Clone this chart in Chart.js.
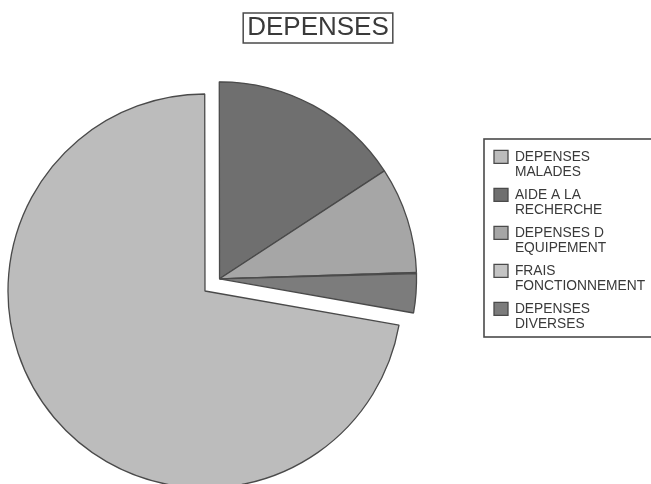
<!DOCTYPE html>
<html>
<head>
<meta charset="utf-8">
<title>DEPENSES</title>
<script src="https://cdn.jsdelivr.net/npm/chart.js@4.4.1/dist/chart.umd.min.js"></script>
<style>
  html, body { margin: 0; padding: 0; background: #fff; }
  #pieChart { display: block; }
</style>
</head>
<body>
<canvas id="pieChart" width="651" height="484"></canvas>
<script>
var titleText = 'DEPENSES';

var pieLabels = [
    ['DEPENSES', 'MALADES'],
    ['AIDE A LA', 'RECHERCHE'],
    ['DEPENSES D', 'EQUIPEMENT'],
    ['FRAIS', 'FONCTIONNEMENT'],
    ['DEPENSES', 'DIVERSES']
];
var pieValues = [72.2, 15.8, 8.7, 0.1, 3.2];
var pieColors = ['#bcbcbc', '#6f6f6f', '#a6a6a6', '#c4c4c4', '#7c7c7c'];
var explodedFrom = 1; // slices from this one on are pulled out as one block

Chart.defaults.font.family = '"Liberation Sans", Arial, sans-serif';
Chart.defaults.color = '#3a3a3a';

// move the exploded slices together along the middle angle of the block
var explodePlugin = {
    id: 'explodeGroup',
    afterDatasetUpdate: function (chart, args, opts) {
        var arcs = args.meta.data;
        var first = arcs[explodedFrom];
        var last = arcs[arcs.length - 1];
        var mid = (first.startAngle + last.endAngle) / 2;
        for (var i = explodedFrom; i < arcs.length; i++) {
            arcs[i].x += Math.cos(mid) * opts.distance;
            arcs[i].y += Math.sin(mid) * opts.distance;
        }
    }
};

// put title and legend where the old chart had them, and frame both
var framePlugin = {
    id: 'frames',
    beforeDraw: function (chart) {
        var t = chart.titleBlock;
        t.left = 218; t.right = 418; t.width = 200;
        t.top = 12.4; t.bottom = 43.6; t.height = 31.2;

        var lg = chart.legend;
        lg.left = 486; lg.right = 700; lg.width = 214;
        lg.top = 142; lg.bottom = 345; lg.height = 203;
    },
    afterDraw: function (chart) {
        var ctx = chart.ctx;
        ctx.save();
        ctx.font = '26px "Liberation Sans", Arial, sans-serif';
        var w = ctx.measureText(titleText).width;
        ctx.strokeStyle = '#4a4a4a';
        ctx.lineWidth = 1.5;
        ctx.strokeRect(318 - w / 2 - 4, 13, w + 8, 30);

        ctx.lineWidth = 1.6;
        ctx.strokeRect(484, 139, 220, 198);
        ctx.restore();
    }
};

var pieChart = new Chart(document.getElementById('pieChart'), {
    type: 'pie',
    data: {
        labels: pieLabels,
        datasets: [{
            data: pieValues,
            backgroundColor: pieColors,
            borderColor: '#4a4a4a',
            borderWidth: 1.3,
            radius: 197,
            clip: false
        }]
    },
    options: {
        responsive: false,
        animation: false,
        rotation: 100,
        layout: {
            padding: { left: 12, right: 253, top: 66.8, bottom: 0 }
        },
        plugins: {
            title: {
                display: true,
                text: titleText,
                color: '#3a3a3a',
                padding: 0,
                font: { size: 26, weight: 'normal', lineHeight: 1.2 }
            },
            legend: {
                position: 'chartArea',
                align: 'start',
                labels: {
                    boxWidth: 14,
                    boxHeight: 13,
                    padding: 8,
                    color: '#3a3a3a',
                    font: { size: 13.8, lineHeight: 15 / 13.8 }
                }
            },
            tooltip: { enabled: false },
            explodeGroup: { distance: 19 }
        }
    },
    plugins: [explodePlugin, framePlugin]
});
</script>
</body>
</html>
